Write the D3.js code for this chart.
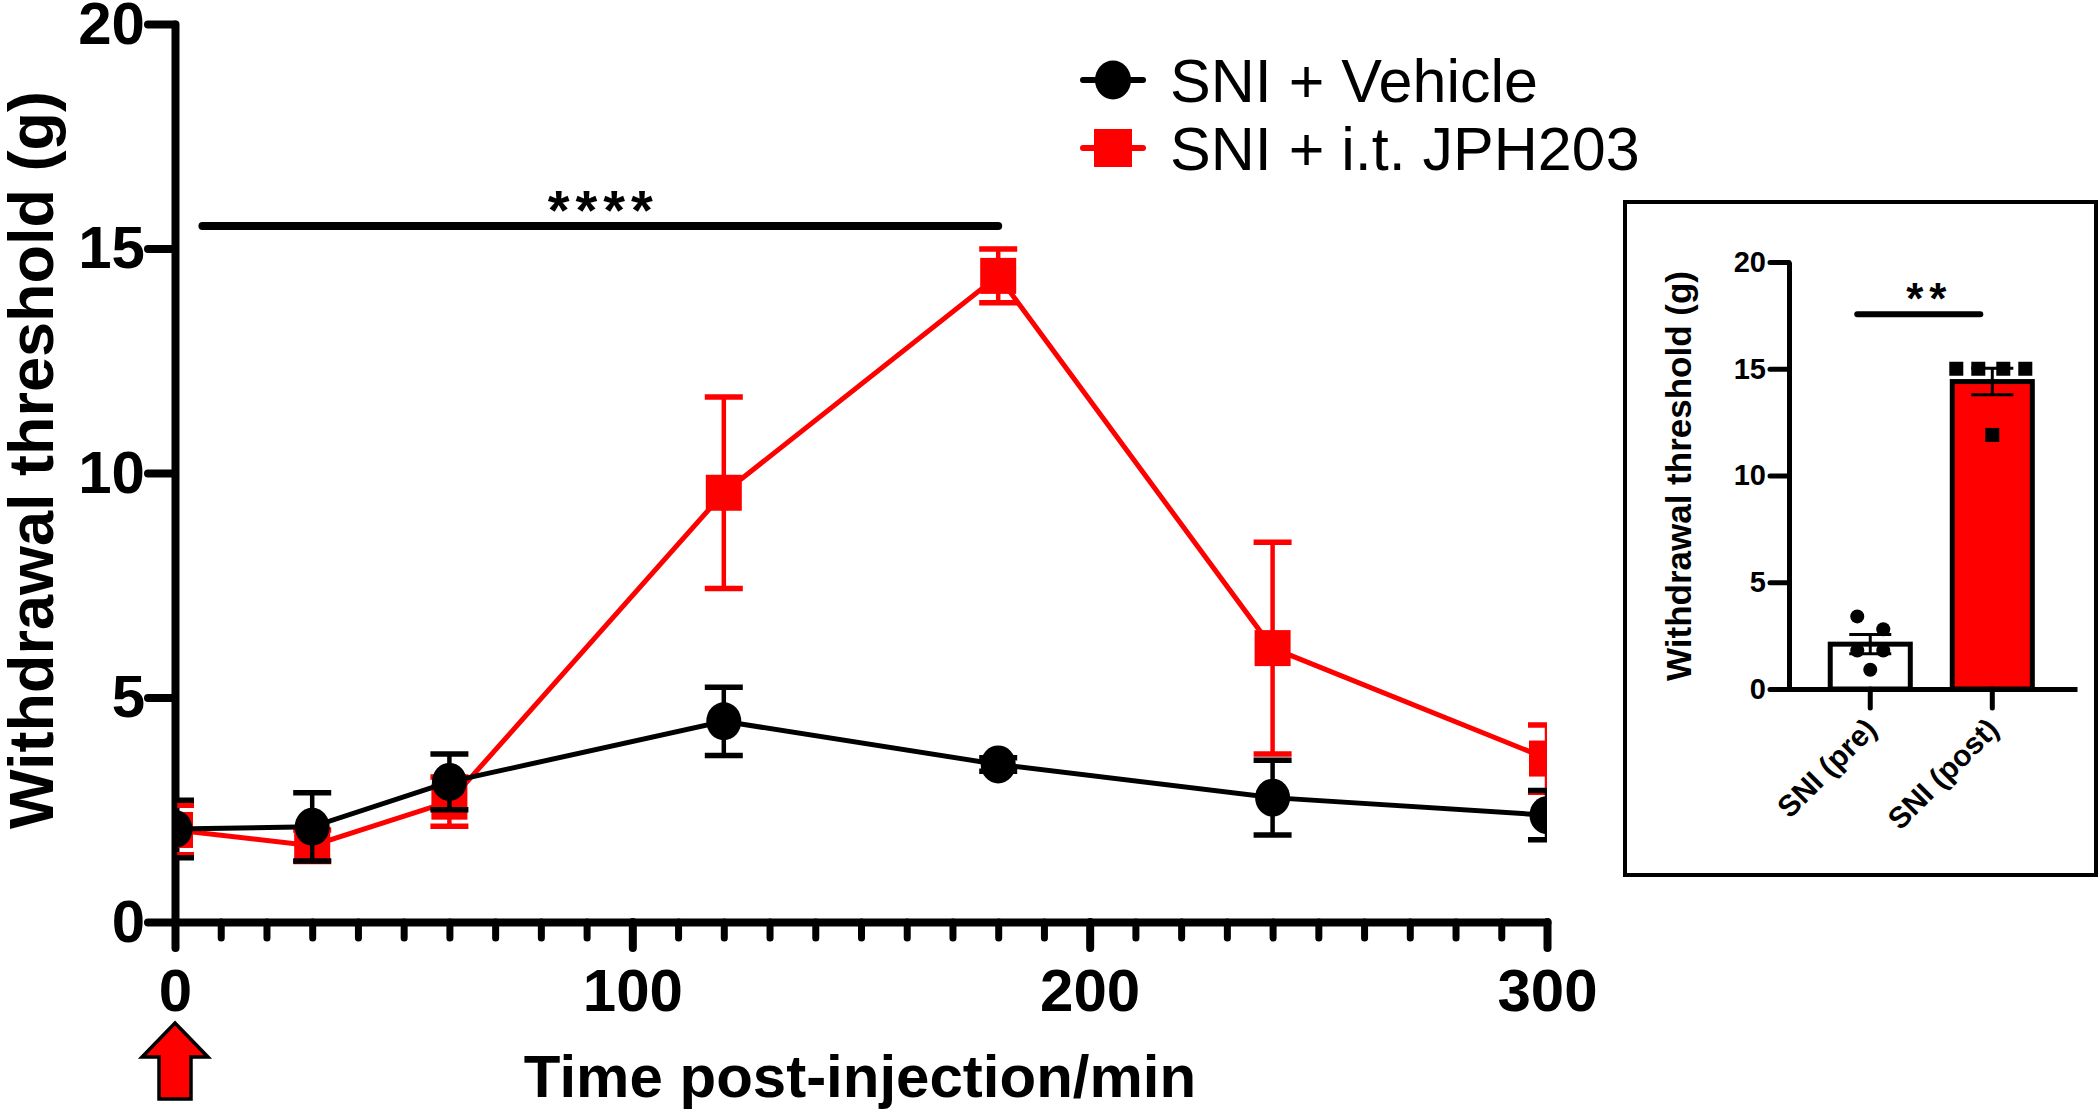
<!DOCTYPE html>
<html><head><meta charset="utf-8">
<script src="https://cdn.jsdelivr.net/npm/d3@7"></script>
<style>
html,body{margin:0;padding:0;background:#fff;}
svg{display:block;}
</style></head><body>
<svg id="chart" width="2100" height="1114"></svg>
<script>
// ---------- data ----------
const times = [0, 30, 60, 120, 180, 240, 300];
const vehicleMean = [2.07, 2.12, 3.12, 4.47, 3.51, 2.77, 2.38];
const vehicleSEM  = [0.64, 0.76, 0.62, 0.76, 0.15, 0.83, 0.55];
const jphMean = [2.05, 1.70, 2.68, 9.56, 14.39, 6.10, 3.64];
const jphSEM  = [0.55, 0.35, 0.55, 2.13, 0.60, 2.36, 0.75];
const seriesNames = ["SNI + Vehicle", "SNI + i.t. JPH203"];
const yTicks = [0, 5, 10, 15, 20];
const xMajorTicks = [0, 100, 200, 300];
const sigRange = [6, 180];
const sigLevel = 15.5;
const sigLabel = "****";

const insetCategories = ["SNI (pre)", "SNI (post)"];
const insetMeans = [2.1, 14.4];
const insetSEM = [0.45, 0.62];
const prePoints = [3.4, 2.8, 1.8, 1.8, 0.9];
const postPoints = [15.0, 15.0, 15.0, 15.0, 11.9];
const insetYTicks = [0, 5, 10, 15, 20];
const insetSigLevel = 17.55;
const insetSigLabel = "**";

// ---------- setup ----------
const RED = "#ff0000";
const FONT = '"Liberation Sans", Arial, Helvetica, sans-serif';
const svg = d3.select("#chart");
svg.append("rect").attr("width", 2100).attr("height", 1114).attr("fill", "#fff");

const x = d3.scaleLinear().domain([0, 300]).range([175, 1547]);
const y = d3.scaleLinear().domain([0, 20]).range([922, 24]);

svg.append("defs").append("clipPath").attr("id", "plotclip")
  .append("rect").attr("x", x(0)).attr("y", 0).attr("width", x(300) - x(0)).attr("height", 1000);

// ---------- main axes ----------
function styleAxis(g, sw, fs) {
  g.attr("font-family", FONT);
  g.selectAll("path.domain").attr("stroke", "#000").attr("stroke-width", sw).attr("stroke-linecap", "round");
  g.selectAll(".tick line").attr("stroke", "#000").attr("stroke-width", sw).attr("stroke-linecap", "round");
  g.selectAll(".tick text").attr("fill", "#000").attr("font-size", fs).attr("font-weight", "bold").attr("font-family", FONT);
}

const minorTicks = d3.range(10, 300, 10).filter(v => v % 100 !== 0);
const gxMinor = svg.append("g").attr("transform", `translate(0,${y(0)})`)
  .call(d3.axisBottom(x).tickValues(minorTicks).tickSize(16).tickFormat(""));
gxMinor.select("path.domain").remove();
styleAxis(gxMinor, 7, 0);

const gx = svg.append("g").attr("transform", `translate(0,${y(0)})`)
  .call(d3.axisBottom(x).tickValues(xMajorTicks).tickSize(26).tickSizeOuter(0).tickPadding(20));
styleAxis(gx, 8, 60);

const gy = svg.append("g").attr("transform", `translate(${x(0)},0)`)
  .call(d3.axisLeft(y).tickValues(yTicks).tickSize(27).tickSizeOuter(0).tickPadding(3));
styleAxis(gy, 8, 60);

// axis titles
svg.append("text").attr("transform", `translate(53,460) rotate(-90)`)
  .attr("text-anchor", "middle").attr("font-family", FONT).attr("font-weight", "bold")
  .attr("font-size", 63).text("Withdrawal threshold (g)");
svg.append("text").attr("x", 860).attr("y", 1097)
  .attr("text-anchor", "middle").attr("font-family", FONT).attr("font-weight", "bold")
  .attr("font-size", 60).text("Time post-injection/min");

// injection arrow at t = 0
const ax = x(0), at = 1023;
svg.append("path")
  .attr("d", `M${ax},${at} L${ax + 33},${at + 34} L${ax + 16},${at + 34} L${ax + 16},${at + 76} L${ax - 16},${at + 76} L${ax - 16},${at + 34} L${ax - 33},${at + 34} Z`)
  .attr("fill", RED).attr("stroke", "#000").attr("stroke-width", 3.5).attr("stroke-linejoin", "miter");

// ---------- series ----------
function drawSeries(mean, sem, color, shape) {
  const pts = times.map((t, i) => ({ t, m: mean[i], s: sem[i] }));
  const g = svg.append("g").attr("clip-path", "url(#plotclip)");
  const eb = g.selectAll(".eb").data(pts).enter().append("g");
  eb.append("line").attr("x1", d => x(d.t)).attr("x2", d => x(d.t))
    .attr("y1", d => y(d.m + d.s)).attr("y2", d => y(d.m - d.s))
    .attr("stroke", color).attr("stroke-width", 4.5);
  [1, -1].forEach(sgn => {
    eb.append("line").attr("x1", d => x(d.t) - 19).attr("x2", d => x(d.t) + 19)
      .attr("y1", d => y(d.m + sgn * d.s)).attr("y2", d => y(d.m + sgn * d.s))
      .attr("stroke", color).attr("stroke-width", 5.5);
  });
  g.append("path").datum(pts)
    .attr("d", d3.line().x(d => x(d.t)).y(d => y(d.m)))
    .attr("fill", "none").attr("stroke", color).attr("stroke-width", 5);
  if (shape === "circle") {
    g.selectAll(".mk").data(pts).enter().append("ellipse")
      .attr("cx", d => x(d.t)).attr("cy", d => y(d.m)).attr("rx", 17.5).attr("ry", 19).attr("fill", color);
  } else {
    g.selectAll(".mk").data(pts).enter().append("rect")
      .attr("x", d => x(d.t) - 18).attr("y", d => y(d.m) - 18).attr("width", 36).attr("height", 36).attr("fill", color);
  }
}
drawSeries(jphMean, jphSEM, RED, "square");
drawSeries(vehicleMean, vehicleSEM, "#000", "circle");

// significance bar
svg.append("line").attr("x1", x(sigRange[0])).attr("x2", x(sigRange[1]))
  .attr("y1", y(sigLevel)).attr("y2", y(sigLevel))
  .attr("stroke", "#000").attr("stroke-width", 8).attr("stroke-linecap", "round");
svg.append("text").attr("x", x((sigRange[0] + sigRange[1]) / 2) + 3).attr("y", y(sigLevel) + 3)
  .attr("text-anchor", "middle").attr("font-family", FONT).attr("font-weight", "bold")
  .attr("font-size", 56).attr("letter-spacing", 6).text(sigLabel);

// ---------- legend ----------
const legend = svg.append("g").attr("font-family", FONT);
const legRows = [{ name: seriesNames[0], color: "#000", shape: "circle", cy: 80 },
                 { name: seriesNames[1], color: RED, shape: "square", cy: 148 }];
legRows.forEach(r => {
  legend.append("line").attr("x1", 1083).attr("x2", 1143).attr("y1", r.cy).attr("y2", r.cy)
    .attr("stroke", r.color).attr("stroke-width", 6).attr("stroke-linecap", "round");
  if (r.shape === "circle") legend.append("ellipse").attr("cx", 1113).attr("cy", r.cy).attr("rx", 18).attr("ry", 19.5).attr("fill", r.color);
  else legend.append("rect").attr("x", 1094).attr("y", r.cy - 19).attr("width", 38).attr("height", 38).attr("fill", r.color);
  legend.append("text").attr("x", 1170).attr("y", r.cy + 22).attr("font-size", 61).attr("fill", "#000").text(r.name);
});

// ---------- inset ----------
svg.append("rect").attr("x", 1625).attr("y", 202).attr("width", 471).attr("height", 673)
  .attr("fill", "none").attr("stroke", "#000").attr("stroke-width", 4);

const iy = d3.scaleLinear().domain([0, 20]).range([689, 262]);
const ix = d3.scaleBand().domain(insetCategories).range([1789, 2077]).paddingInner(0.344).paddingOuter(0.352).align(0.48);

// bars
svg.selectAll(".ibar").data(insetCategories).enter().append("rect")
  .attr("x", d => ix(d)).attr("width", ix.bandwidth())
  .attr("y", (d, i) => iy(insetMeans[i])).attr("height", (d, i) => iy(0) - iy(insetMeans[i]))
  .attr("fill", (d, i) => i === 0 ? "#fff" : RED).attr("stroke", "#000").attr("stroke-width", 5);

const ig = svg.append("g").attr("transform", `translate(${ix.range()[0]},0)`)
  .call(d3.axisLeft(iy).tickValues(insetYTicks).tickSize(19).tickSizeOuter(0).tickPadding(4));
styleAxis(ig, 5, 29);
ig.selectAll("path.domain").attr("stroke-linecap", "butt");
const igx = svg.append("g").attr("transform", `translate(0,${iy(0)})`)
  .call(d3.axisBottom(ix).tickSize(19).tickSizeOuter(0).tickFormat(""));
styleAxis(igx, 5, 0);
igx.selectAll("path.domain").attr("stroke-linecap", "butt");

// rotated category labels
svg.selectAll(".icat").data(insetCategories).enter().append("text")
  .attr("transform", d => `translate(${ix(d) + ix.bandwidth() / 2 + 8},${iy(0) + 42}) rotate(-45)`)
  .attr("text-anchor", "end").attr("font-family", FONT).attr("font-weight", "bold")
  .attr("font-size", 30).text(d => d);

// inset y title
svg.append("text").attr("transform", `translate(1691,476) rotate(-90)`)
  .attr("text-anchor", "middle").attr("font-family", FONT).attr("font-weight", "bold")
  .attr("font-size", 35).text("Withdrawal threshold (g)");

// individual points
const preOff = [-13, 13, -13, 13, 0];
const postOff = [-36, -14, 11, 33, 0];
const c0 = ix(insetCategories[0]) + ix.bandwidth() / 2;
const c1 = ix(insetCategories[1]) + ix.bandwidth() / 2;
svg.selectAll(".pre").data(prePoints).enter().append("circle")
  .attr("cx", (d, i) => c0 + preOff[i]).attr("cy", d => iy(d)).attr("r", 7).attr("fill", "#000");
svg.selectAll(".post").data(postPoints).enter().append("rect")
  .attr("x", (d, i) => c1 + postOff[i] - 7).attr("y", d => iy(d) - 7).attr("width", 14).attr("height", 14).attr("fill", "#000");

// inset error bars
insetCategories.forEach((c, i) => {
  const cx = ix(c) + ix.bandwidth() / 2;
  svg.append("line").attr("x1", cx).attr("x2", cx).attr("y1", iy(insetMeans[i] + insetSEM[i])).attr("y2", iy(insetMeans[i] - insetSEM[i]))
    .attr("stroke", "#000").attr("stroke-width", 3);
  [1, -1].forEach(s => {
    svg.append("line").attr("x1", cx - 21).attr("x2", cx + 21)
      .attr("y1", iy(insetMeans[i] + s * insetSEM[i])).attr("y2", iy(insetMeans[i] + s * insetSEM[i]))
      .attr("stroke", "#000").attr("stroke-width", 3);
  });
});

// inset significance
svg.append("line").attr("x1", c0 - 13).attr("x2", c1 - 12).attr("y1", iy(insetSigLevel)).attr("y2", iy(insetSigLevel))
  .attr("stroke", "#000").attr("stroke-width", 6).attr("stroke-linecap", "round");
svg.append("text").attr("x", (c0 + c1) / 2 - 2).attr("y", iy(insetSigLevel) + 0)
  .attr("text-anchor", "middle").attr("font-family", FONT).attr("font-weight", "bold")
  .attr("font-size", 44).attr("letter-spacing", 6).text(insetSigLabel);
</script>
</body></html>
